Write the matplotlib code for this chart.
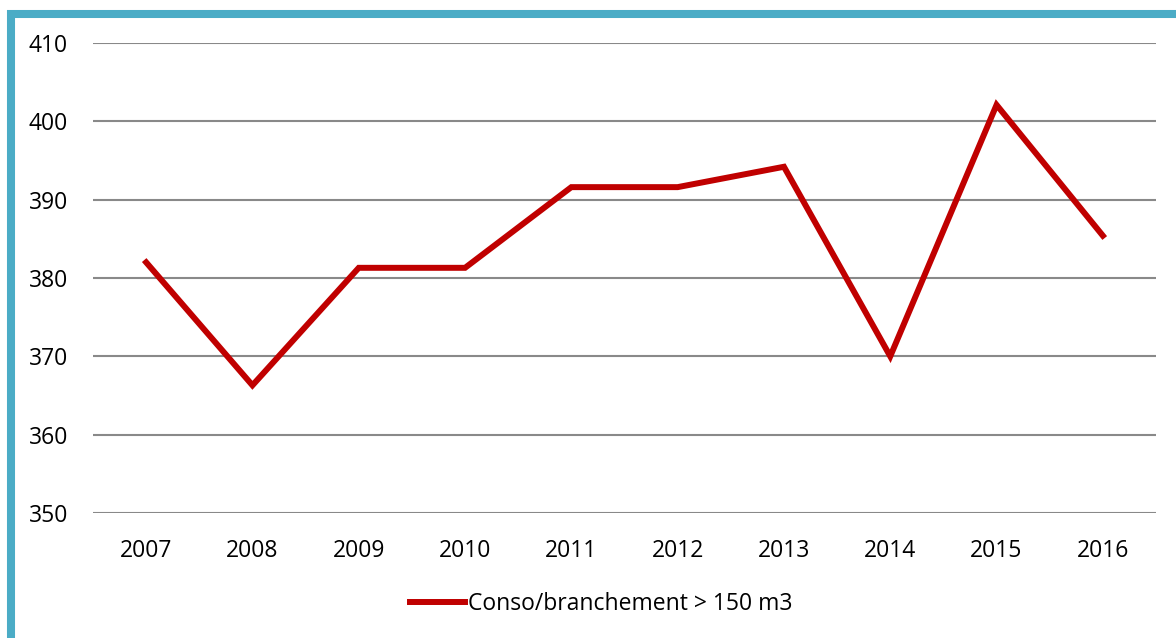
import matplotlib
matplotlib.use('Agg')
from matplotlib import pyplot as plt
from matplotlib.lines import Line2D

years = ['2007', '2008', '2009', '2010', '2011', '2012', '2013', '2014', '2015', '2016']
conso = [382.0, 366.3, 381.3, 381.3, 391.6, 391.6, 394.2, 370.0, 402.1, 385.4]
yticks = [350, 360, 370, 380, 390, 400, 410]

plt.rcParams['font.family'] = ['Open Sans', 'DejaVu Sans']

fig = plt.figure(figsize=(11.76, 6.38), dpi=100)
ax = fig.add_axes([93/1176, 1-513/638, (1156-93)/1176, (513-43)/638])

ax.plot(range(len(years)), conso, color='#C00000', lw=4.3,
        solid_joinstyle='miter', label='Conso/branchement > 150 m3')

ax.set_xlim(-0.5, len(years)-0.5)
ax.set_ylim(350, 410)
ax.set_yticks(yticks)
ax.set_xticks(range(len(years)))
ax.set_xticklabels(years)
ax.grid(axis='y', color='#898989', lw=1.5)
ax.set_axisbelow(True)
for s in ax.spines.values():
    s.set_visible(False)
ax.tick_params(axis='both', length=0, labelsize=16.5, colors='black')
ax.tick_params(axis='y', pad=18)
ax.tick_params(axis='x', pad=19)

fig.legend(loc='center', bbox_to_anchor=(601/1176, 1-604/638), frameon=False,
           fontsize=16.5, handlelength=2.4, handletextpad=0.15)

# teal frame on the left and top
teal = '#4BACC6'
fig.add_artist(Line2D([11/1176, 11/1176], [0, 1-10/638], color=teal, lw=5.8,
                      transform=fig.transFigure, solid_capstyle='butt'))
fig.add_artist(Line2D([7/1176, 1], [1-13.7/638, 1-13.7/638], color=teal, lw=5.8,
                      transform=fig.transFigure, solid_capstyle='butt'))

fig.savefig('out.png', dpi=100)
